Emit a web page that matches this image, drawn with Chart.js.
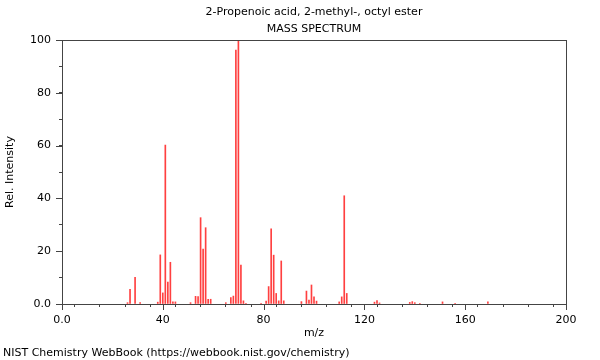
<!DOCTYPE html>
<html>
<head>
<meta charset="utf-8">
<script src="https://cdn.jsdelivr.net/npm/chart.js@4/dist/chart.umd.min.js"></script>
<style>
  html, body { margin: 0; padding: 0; background: #fff; }
  #wrap { width: 600px; height: 360px; }
</style>
</head>
<body>
<div id="wrap"><canvas id="spectrum" width="600" height="360"></canvas></div>
<script>
// peaks (m/z, relative intensity)
const mz = [26, 27, 29, 31, 38, 39, 40, 41, 42, 43, 44, 45, 51, 53, 54, 55, 56, 57, 58, 59,
            65, 67, 68, 69, 70, 71, 72, 73, 79, 81, 82, 83, 84, 85, 86, 87, 88,
            95, 97, 98, 99, 100, 101, 110, 111, 112, 113, 124, 125, 126, 138, 139, 140, 142,
            151, 156, 169];
const intensity = [0.5, 5.6, 10.1, 0.5, 0.7, 18.6, 4.2, 60.2, 8.3, 15.8, 0.8, 0.8, 0.5, 2.9, 2.8, 32.7, 20.8, 28.9, 1.8, 1.8,
                   0.5, 2.4, 3.0, 96.2, 100, 14.7, 1.2, 0.3, 0.3, 1.1, 6.6, 28.5, 18.5, 4.0, 1.2, 16.3, 1.2,
                   0.9, 4.9, 1.5, 7.2, 2.7, 1.1, 0.8, 2.7, 41.0, 4.0, 0.7, 1.3, 0.4, 0.6, 0.9, 0.5, 0.3,
                   0.8, 0.3, 0.8];

const xTicksMajor = [0, 40, 80, 120, 160, 200];
const yTicksMajor = [0, 20, 40, 60, 80, 100];

const chartTitle = ['2-Propenoic acid, 2-methyl-, octyl ester', 'MASS SPECTRUM'];
const footer = 'NIST Chemistry WebBook (https://webbook.nist.gov/chemistry)';

const font = { family: 'DejaVu Sans', size: 11, weight: 'normal' };
const axisColor = '#444';

const points = mz.map((m, i) => ({ x: m, y: intensity[i] }));

// frame round the plot area and the longer major ticks
const framePlugin = {
  id: 'frame',
  afterDraw(chart) {
    const { ctx, chartArea: a, scales } = chart;
    ctx.save();
    ctx.strokeStyle = axisColor;
    ctx.lineWidth = 1;
    ctx.strokeRect(Math.round(a.left) + 0.5, Math.round(a.top) + 0.5,
                   Math.round(a.right - a.left), Math.round(a.bottom - a.top));
    ctx.beginPath();
    xTicksMajor.forEach(v => {
      const px = Math.round(scales.x.getPixelForValue(v)) + 0.5;
      ctx.moveTo(px, a.bottom);
      ctx.lineTo(px, a.bottom + 6);
    });
    yTicksMajor.forEach(v => {
      const py = Math.round(scales.y.getPixelForValue(v)) + 0.5;
      ctx.moveTo(a.left, py);
      ctx.lineTo(a.left - 6, py);
    });
    ctx.stroke();
    ctx.restore();
  }
};

new Chart(document.getElementById('spectrum').getContext('2d'), {
  type: 'bar',
  data: {
    datasets: [{
      data: points,
      backgroundColor: 'rgba(255, 30, 30, 0.85)',
      borderWidth: 0,
      barThickness: 1,
      grouped: false
    }]
  },
  options: {
    responsive: false,
    animation: false,
    layout: { padding: { left: 3, right: 34, top: 0, bottom: 0 } },
    plugins: {
      legend: { display: false },
      tooltip: { enabled: false },
      title: {
        display: true,
        fullSize: false,
        text: chartTitle,
        color: '#000',
        font: { ...font, lineHeight: 17 / 11 },
        padding: { top: 4, bottom: 2 }
      },
      subtitle: {
        display: true,
        text: footer,
        position: 'bottom',
        align: 'start',
        color: '#000',
        font: font,
        padding: { top: 0, bottom: 0 }
      }
    },
    scales: {
      x: {
        type: 'linear',
        min: 0,
        max: 200,
        offset: false,
        afterFit(scale) { scale.height = 42.8; },
        ticks: {
          stepSize: 10,
          autoSkip: false,
          maxRotation: 0,
          padding: 7,
          color: '#000',
          font: font,
          callback: v => (v % 40 === 0 ? (v === 0 ? '0.0' : String(v)) : '')
        },
        grid: { drawOnChartArea: false, tickLength: 3, color: axisColor },
        border: { color: axisColor },
        title: { display: true, text: 'm/z', color: '#000', font: font, padding: { top: 0, bottom: 7 } }
      },
      y: {
        min: 0,
        max: 100,
        afterFit(scale) { scale.width = 59; },
        ticks: {
          stepSize: 10,
          autoSkip: false,
          padding: 8,
          color: '#000',
          font: font,
          callback: v => (v % 20 === 0 ? (v === 0 ? '0.0' : String(v)) : '')
        },
        grid: { drawOnChartArea: false, tickLength: 3, color: axisColor },
        border: { color: axisColor },
        title: { display: true, text: 'Rel. Intensity', color: '#000', font: font, padding: { top: 1, bottom: 0 } }
      }
    }
  },
  plugins: [framePlugin]
});
</script>
</body>
</html>
